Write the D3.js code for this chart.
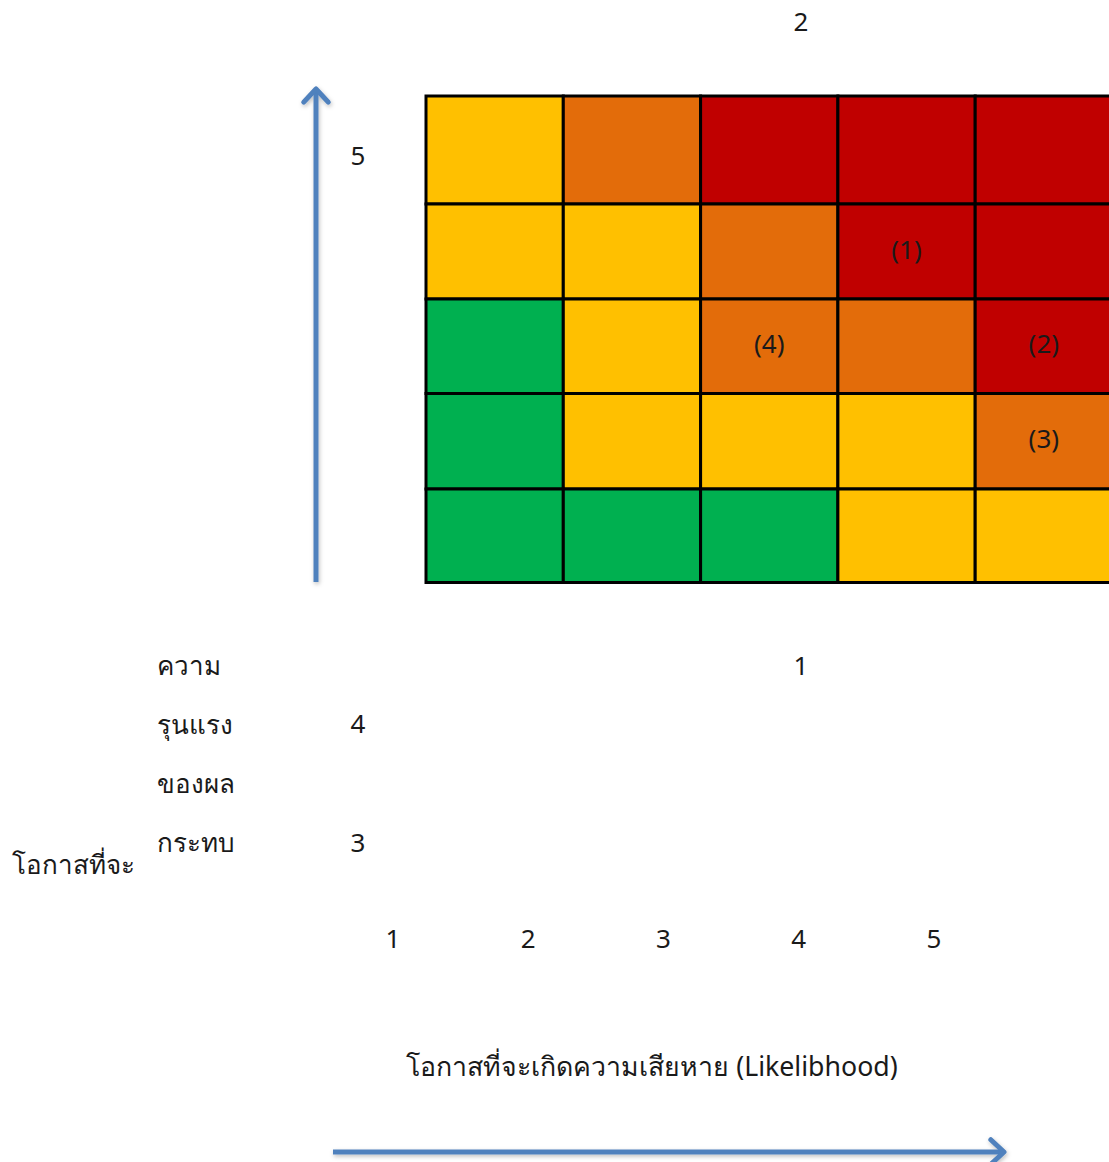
<!DOCTYPE html>
<html>
<head>
<meta charset="utf-8">
<script src="https://cdn.jsdelivr.net/npm/d3@7"></script>
<style>
  body { margin: 0; background: #fff; }
  svg { display: block; font-family: "Noto Sans", "DejaVu Sans", sans-serif; }
</style>
</head>
<body>
<svg id="chart" width="1109" height="1162"></svg>
<script>
// likelihood (columns) and severity (rows, top to bottom)
var likelihood = [1, 2, 3, 4, 5]
var severity = [5, 4, 3, 2, 1]

// risk level of every cell, row by row from severity 5 down to 1
var levels = [
	["M", "H", "E", "E", "E"],
	["M", "M", "H", "E", "E"],
	["L", "M", "H", "H", "E"],
	["L", "M", "M", "M", "H"],
	["L", "L", "L", "M", "M"]
]

// numbered risks put in the matrix
var risks = [
	{ label: "(1)", like: 4, sev: 4 },
	{ label: "(2)", like: 5, sev: 3 },
	{ label: "(3)", like: 5, sev: 2 },
	{ label: "(4)", like: 3, sev: 3 }
]

var levelColors = { L: "#00B050", M: "#FFC000", H: "#E36C0A", E: "#C00000" }

// axis texts
var xTicks = ["1", "2", "3", "4", "5"]
var yTicks = ["5", "4", "3", "2", "1"]
var yTitle = ["ความ", "รุนแรง", "ของผล", "กระทบ"]
var yTitleLead = "โอกาสที่จะ"
var xTitle = "โอกาสที่จะเกิดความเสียหาย (Likelibhood)"

var svg = d3.select("#chart")
var blue = "#4F81BD"
var ink = "#1a1a1a"

// the grid
var x = d3.scaleBand()
	.domain(likelihood)
	.range([426, 1112.5])
var y = d3.scaleLinear()
	.domain([5.5, 4.5, 3.5, 2.5, 1.5, 0.5])
	.range([96, 204, 299, 393.5, 489, 582.5])

var cells = []
for(i = 0; i < severity.length; i++) {
	for(j = 0; j < likelihood.length; j++) {
		cells.push({ sev: severity[i], like: likelihood[j], level: levels[i][j] })
	}
}

svg.append("g")
	.selectAll("rect")
	.data(cells)
	.enter()
	.append("rect")
	.attr("x", function(d) { return x(d.like) })
	.attr("y", function(d) { return y(d.sev + 0.5) })
	.attr("width", x.bandwidth())
	.attr("height", function(d) { return y(d.sev - 0.5) - y(d.sev + 0.5) })
	.attr("fill", function(d) { return levelColors[d.level] })
	.attr("stroke", "#000")
	.attr("stroke-width", 3)

svg.append("g")
	.selectAll("text")
	.data(risks)
	.enter()
	.append("text")
	.attr("x", function(d) { return x(d.like) + x.bandwidth() / 2 })
	.attr("y", function(d) { return y(d.sev) - 2 })
	.attr("dy", "0.35em")
	.attr("text-anchor", "middle")
	.attr("font-size", 26)
	.attr("fill", ink)
	.text(function(d) { return d.label })

// severity numbers, scattered the way the source document left them
var yTickPos = d3.scaleOrdinal()
	.domain(yTicks)
	.range([[358, 156], [358, 724], [358, 843], [801, 22], [801, 666]])
svg.append("g")
	.selectAll("text")
	.data(yTicks)
	.enter()
	.append("text")
	.attr("x", function(d) { return yTickPos(d)[0] })
	.attr("y", function(d) { return yTickPos(d)[1] })
	.attr("dy", "0.35em")
	.attr("text-anchor", "middle")
	.attr("font-size", 26)
	.attr("fill", ink)
	.text(function(d) { return d })

// likelihood numbers
var xt = d3.scalePoint()
	.domain(xTicks)
	.range([393, 934])
svg.append("g")
	.selectAll("text")
	.data(xTicks)
	.enter()
	.append("text")
	.attr("x", function(d) { return xt(d) })
	.attr("y", 939)
	.attr("dy", "0.35em")
	.attr("text-anchor", "middle")
	.attr("font-size", 26)
	.attr("fill", ink)
	.text(function(d) { return d })

// severity title, one word per line
var yl = d3.scalePoint()
	.domain(yTitle)
	.range([666, 843])
svg.append("g")
	.selectAll("text")
	.data(yTitle)
	.enter()
	.append("text")
	.attr("x", 157)
	.attr("y", function(d) { return yl(d) })
	.attr("dy", "0.35em")
	.attr("font-size", 26)
	.attr("fill", ink)
	.text(function(d) { return d })
svg.append("text")
	.attr("x", 12)
	.attr("y", 865)
	.attr("dy", "0.35em")
	.attr("font-size", 26)
	.attr("fill", ink)
	.text(yTitleLead)

svg.append("text")
	.attr("x", 652)
	.attr("y", 1067)
	.attr("dy", "0.35em")
	.attr("text-anchor", "middle")
	.attr("font-size", 26.7)
	.attr("fill", ink)
	.text(xTitle)

// arrows
var defs = svg.append("defs")
var f = defs.append("filter").attr("id", "shadow")
	.attr("x", "-50%").attr("y", "-50%").attr("width", "200%").attr("height", "200%")
f.append("feDropShadow")
	.attr("dx", 1).attr("dy", 2).attr("stdDeviation", 2)
	.attr("flood-color", "#000").attr("flood-opacity", 0.25)

function arrow(x1, y1, x2, y2) {
	var a = Math.atan2(y2 - y1, x2 - x1)
	var h = 18
	var g = svg.append("g").attr("filter", "url(#shadow)")
	g.append("line")
		.attr("x1", x1).attr("y1", y1).attr("x2", x2 - Math.cos(a) * 2).attr("y2", y2 - Math.sin(a) * 2)
		.attr("stroke", blue).attr("stroke-width", 5)
	g.append("path")
		.attr("d", d3.line()([
			[x2 - h * Math.cos(a - 0.75), y2 - h * Math.sin(a - 0.75)],
			[x2, y2],
			[x2 - h * Math.cos(a + 0.75), y2 - h * Math.sin(a + 0.75)]
		]))
		.attr("fill", "none")
		.attr("stroke", blue)
		.attr("stroke-width", 5)
		.attr("stroke-linecap", "round")
		.attr("stroke-linejoin", "round")
}
arrow(316, 582, 316, 89)
arrow(333, 1152, 1004, 1152)
</script>
</body>
</html>
